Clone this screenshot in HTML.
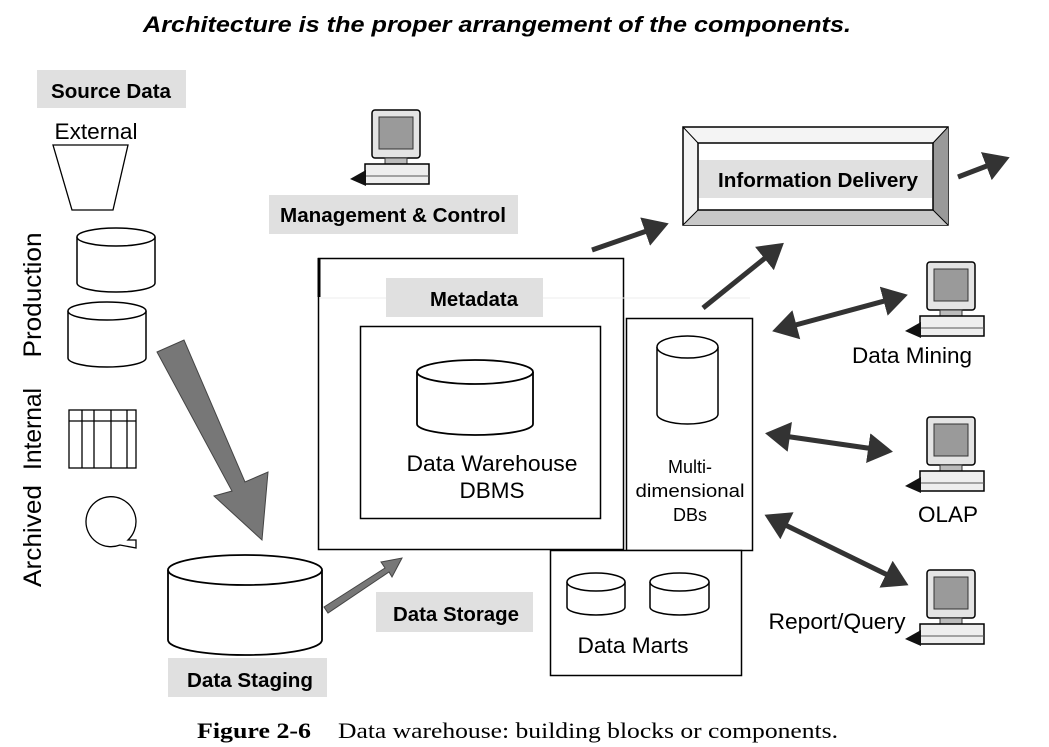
<!DOCTYPE html>
<html><head><meta charset="utf-8"><style>
html,body{margin:0;padding:0;background:#fff;}
svg{display:block;}
.lb{font-family:"Liberation Sans",sans-serif;font-weight:bold;font-size:20px;fill:#000;}
.t{font-family:"Liberation Sans",sans-serif;font-size:22.5px;fill:#000;}
</style></head><body>
<svg width="1049" height="747" viewBox="0 0 1049 747" xmlns="http://www.w3.org/2000/svg">
<defs>
<g id="pc">
<rect x="22" y="2" width="48" height="48" rx="3" fill="#e4e4e4" stroke="#000" stroke-width="1.5"/>
<rect x="29" y="9" width="34" height="32" fill="#9a9a9a" stroke="#333"/>
<rect x="35" y="50" width="22" height="6" fill="#bbb" stroke="#333"/>
<rect x="15" y="56" width="64" height="20" fill="#eee" stroke="#000" stroke-width="1.5"/>
<line x1="15" y1="68" x2="79" y2="68" stroke="#555"/>
<polygon points="0,71 16,62 16,78" fill="#111"/>
</g>
<marker id="ah" markerWidth="6" markerHeight="6" refX="4" refY="3" orient="auto" markerUnits="strokeWidth"><path d="M0,0 L5,3 L0,6 z" fill="#333"/></marker>
<marker id="ahs" markerWidth="6" markerHeight="6" refX="1" refY="3" orient="auto" markerUnits="strokeWidth"><path d="M5,0 L0,3 L5,6 z" fill="#333"/></marker>
</defs>

<text x="497" y="32" text-anchor="middle" font-family="Liberation Sans,sans-serif" font-weight="bold" font-style="italic" font-size="22" textLength="708" lengthAdjust="spacingAndGlyphs">Architecture is the proper arrangement of the components.</text>

<!-- Source data -->
<rect x="37" y="70" width="149" height="38" fill="#e0e0e0"/>
<text class="lb" x="111" y="98" text-anchor="middle" textLength="120" lengthAdjust="spacingAndGlyphs">Source Data</text>
<text class="t" x="96" y="139" text-anchor="middle" textLength="83" lengthAdjust="spacingAndGlyphs">External</text>
<polygon points="53,145 128,145 113,210 72,210" fill="#fff" stroke="#000" stroke-width="1.3"/>
<g fill="#fff" stroke="#000" stroke-width="1.5">
<path d="M77,237 L77,283 A39,9 0 0 0 155,283 L155,237"/><ellipse cx="116" cy="237" rx="39" ry="9"/>
<path d="M68,311 L68,358 A39,9 0 0 0 146,358 L146,311"/><ellipse cx="107" cy="311" rx="39" ry="9"/>
</g>
<g stroke="#000" stroke-width="1.3" fill="none">
<rect x="69" y="410" width="67" height="58"/>
<line x1="69" y1="421" x2="136" y2="421"/>
<line x1="82" y1="410" x2="82" y2="468"/><line x1="94" y1="410" x2="94" y2="468"/>
<line x1="111" y1="410" x2="111" y2="468"/><line x1="127" y1="410" x2="127" y2="468"/>
<path d="M120,545 A25,25 0 1 1 128,540 L136,540 L136,548 Z"/>
</g>
<text class="t" style="font-size:25px" transform="translate(41,295) rotate(-90)" text-anchor="middle" textLength="125" lengthAdjust="spacingAndGlyphs">Production</text>
<text class="t" style="font-size:25px" transform="translate(41,429) rotate(-90)" text-anchor="middle" textLength="82" lengthAdjust="spacingAndGlyphs">Internal</text>
<text class="t" style="font-size:25px" transform="translate(41,536) rotate(-90)" text-anchor="middle" textLength="102" lengthAdjust="spacingAndGlyphs">Archived</text>

<!-- big gray arrow -->
<polygon points="157,352 184,340 245,482 268,472 262,540 214,496 232,491" fill="#777" stroke="#444"/>

<!-- staging -->
<path d="M168,570 L168,640 A77,15 0 0 0 322,640 L322,570" fill="#fff" stroke="#000" stroke-width="1.8"/>
<ellipse cx="245" cy="570" rx="77" ry="15" fill="#fff" stroke="#000" stroke-width="1.8"/>
<rect x="168" y="658" width="159" height="39" fill="#e0e0e0"/>
<text class="lb" x="250" y="687" text-anchor="middle" textLength="126" lengthAdjust="spacingAndGlyphs">Data Staging</text>
<polygon points="324,607 385,568 381,562 402,558 392,577 389,572 328,613" fill="#777" stroke="#444"/>
<rect x="376" y="592" width="157" height="40" fill="#e0e0e0"/>
<text class="lb" x="456" y="621" text-anchor="middle" textLength="126" lengthAdjust="spacingAndGlyphs">Data Storage</text>

<!-- management -->
<use href="#pc" x="350" y="108"/>
<rect x="269" y="195" width="249" height="39" fill="#e0e0e0"/>
<text class="lb" x="393" y="222" text-anchor="middle" textLength="226" lengthAdjust="spacingAndGlyphs">Management &amp; Control</text>

<!-- metadata box -->
<rect x="318.5" y="258.5" width="305" height="291" fill="#fff" stroke="#000" stroke-width="1.5"/>
<line x1="319" y1="258" x2="319" y2="297" stroke="#000" stroke-width="3"/>
<line x1="320" y1="298" x2="750" y2="298" stroke="#eee" stroke-width="1"/>
<rect x="386" y="278" width="157" height="39" fill="#e0e0e0"/>
<text class="lb" x="474" y="306" text-anchor="middle" textLength="88" lengthAdjust="spacingAndGlyphs">Metadata</text>
<rect x="360.5" y="326.5" width="240" height="192" fill="#fff" stroke="#000" stroke-width="1.5"/>
<path d="M417,372 L417,424 A58,11 0 0 0 533,424 L533,372" fill="#fff" stroke="#000" stroke-width="1.8"/>
<ellipse cx="475" cy="372" rx="58" ry="12" fill="#fff" stroke="#000" stroke-width="1.8"/>
<text class="t" x="492" y="471" text-anchor="middle" textLength="171" lengthAdjust="spacingAndGlyphs">Data Warehouse</text>
<text class="t" x="492" y="498" text-anchor="middle">DBMS</text>

<!-- multidim -->
<rect x="626.5" y="318.5" width="126" height="232" fill="#fff" stroke="#000" stroke-width="1.5"/>
<path d="M657,347 L657,414 A30.5,10 0 0 0 718,414 L718,347" fill="#fff" stroke="#000" stroke-width="1.5"/>
<ellipse cx="687.5" cy="347" rx="30.5" ry="11" fill="#fff" stroke="#000" stroke-width="1.5"/>
<text class="t" style="font-size:18px" x="690" y="473" text-anchor="middle">Multi-</text>
<text class="t" style="font-size:18px" x="690" y="497" text-anchor="middle" textLength="109" lengthAdjust="spacingAndGlyphs">dimensional</text>
<text class="t" style="font-size:18px" x="690" y="521" text-anchor="middle">DBs</text>

<!-- data marts -->
<rect x="550.5" y="550.5" width="191" height="125" fill="#fff" stroke="#000" stroke-width="1.5"/>
<g fill="#fff" stroke="#000" stroke-width="1.5">
<path d="M567,582 L567,607 A29,8 0 0 0 625,607 L625,582"/><ellipse cx="596" cy="582" rx="29" ry="9"/>
<path d="M650,582 L650,607 A29.5,8 0 0 0 709,607 L709,582"/><ellipse cx="679.5" cy="582" rx="29.5" ry="9"/>
</g>
<text class="t" x="633" y="653" text-anchor="middle" textLength="111" lengthAdjust="spacingAndGlyphs">Data Marts</text>

<!-- info delivery -->
<rect x="683" y="127" width="265" height="98" fill="#f4f4f4" stroke="#000" stroke-width="1.5"/>
<polygon points="933,143 948,127 948,225 933,210" fill="#999"/>
<polygon points="698,210 933,210 948,225 683,225" fill="#c8c8c8"/>
<line x1="683" y1="127" x2="698" y2="143" stroke="#000"/><line x1="948" y1="127" x2="933" y2="143" stroke="#000"/>
<line x1="683" y1="225" x2="698" y2="210" stroke="#000"/><line x1="948" y1="225" x2="933" y2="210" stroke="#000"/>
<rect x="698" y="143" width="235" height="67" fill="#fff" stroke="#000" stroke-width="1.5"/>
<rect x="699" y="160" width="233" height="38" fill="#e0e0e0"/>
<text class="lb" x="818" y="187" text-anchor="middle" textLength="200" lengthAdjust="spacingAndGlyphs">Information Delivery</text>

<!-- arrows -->
<g stroke="#333" stroke-width="5" fill="none">
<line x1="592" y1="250" x2="664" y2="225" marker-end="url(#ah)"/>
<line x1="703" y1="308" x2="780" y2="246" marker-end="url(#ah)"/>
<line x1="958" y1="177" x2="1005" y2="159" marker-end="url(#ah)"/>
<line x1="777" y1="330" x2="903" y2="296" marker-end="url(#ah)" marker-start="url(#ahs)"/>
<line x1="770" y1="434" x2="888" y2="451" marker-end="url(#ah)" marker-start="url(#ahs)"/>
<line x1="769" y1="517" x2="904" y2="583" marker-end="url(#ah)" marker-start="url(#ahs)"/>
</g>

<use href="#pc" x="905" y="260"/>
<text class="t" x="912" y="363" text-anchor="middle" textLength="120" lengthAdjust="spacingAndGlyphs">Data Mining</text>
<use href="#pc" x="905" y="415"/>
<text class="t" x="948" y="522" text-anchor="middle">OLAP</text>
<use href="#pc" x="905" y="568"/>
<text class="t" x="837" y="629" text-anchor="middle" textLength="137" lengthAdjust="spacingAndGlyphs">Report/Query</text>

<!-- caption -->
<text x="197" y="738" font-family="Liberation Serif,serif" font-weight="bold" font-size="22" textLength="114" lengthAdjust="spacingAndGlyphs">Figure 2-6</text>
<text x="338" y="738" font-family="Liberation Serif,serif" font-size="22" textLength="500" lengthAdjust="spacingAndGlyphs">Data warehouse: building blocks or components.</text>
</svg>
</body></html>
